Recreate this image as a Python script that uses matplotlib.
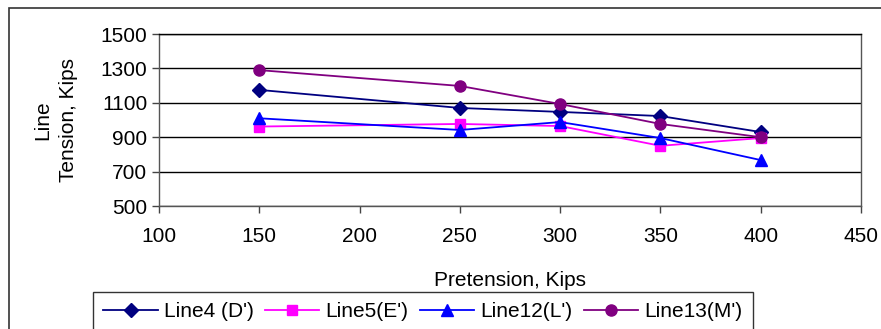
import matplotlib
matplotlib.use("Agg")
import matplotlib.pyplot as plt
from matplotlib.patches import Rectangle

plt.rcParams["font.family"] = ["Liberation Sans", "DejaVu Sans"]

# =========================
# DATA
# =========================
pretension = [150, 250, 300, 350, 400]
line4 = [1175, 1070, 1047, 1023, 930]
line5 = [962, 977, 965, 850, 895]
line12 = [1010, 942, 988, 895, 767]
line13 = [1290, 1198, 1093, 977, 900]

labels = ["Line4 (D')", "Line5(E')", "Line12(L')", "Line13(M')"]
colors = ["#000080", "#FF00FF", "#0000FF", "#800080"]
markers = ["D", "s", "^", "o"]
sizes = [7, 7, 9, 8]

# =========================
# FIGURE
# =========================
fig = plt.figure(figsize=(8.81, 3.29), dpi=100)
ax = fig.add_axes([159 / 881, 1 - 206 / 329, 702 / 881, 172 / 329])

for ys, lab, c, m, s in zip([line4, line5, line12, line13], labels, colors, markers, sizes):
    ax.plot(pretension, ys, color=c, marker=m, markersize=s, linewidth=1.3,
            label=lab, clip_on=False)

ax.set_xlim(100, 450)
ax.set_ylim(500, 1500)
ax.set_xticks([100, 150, 200, 250, 300, 350, 400, 450])
ax.set_yticks([500, 700, 900, 1100, 1300, 1500])
ax.tick_params(labelsize=15, direction="out", length=5, width=1, colors="#444444",
               labelcolor="black")
ax.tick_params(axis="x", pad=10)
ax.yaxis.grid(True, color="black", linewidth=1)
ax.set_axisbelow(True)

for side in ["left", "bottom", "right"]:
    ax.spines[side].set_color("#555555")
ax.spines["top"].set_color("black")
for sp in ax.spines.values():
    sp.set_linewidth(1)

ax.set_xlabel("Pretension, Kips", fontsize=15, labelpad=18)
ax.set_ylabel("Line\nTension, Kips", fontsize=15, labelpad=16, linespacing=1.45)

# outer chart frame
fig.patches.append(Rectangle((9 / 881, -0.1), 1.0, 1 - 8 / 329 + 0.1,
                             transform=fig.transFigure, fill=False,
                             edgecolor="#333333", linewidth=1.2))

leg = fig.legend(loc="upper left", bbox_to_anchor=(93 / 881, 1 - 292 / 329), ncol=4,
                 fontsize=15, frameon=True, fancybox=False, edgecolor="black",
                 handlelength=2.6, handletextpad=0.3, columnspacing=0.55,
                 borderpad=0.5, borderaxespad=0)
leg.get_frame().set_linewidth(1)

fig.savefig("out.png", dpi=100)
